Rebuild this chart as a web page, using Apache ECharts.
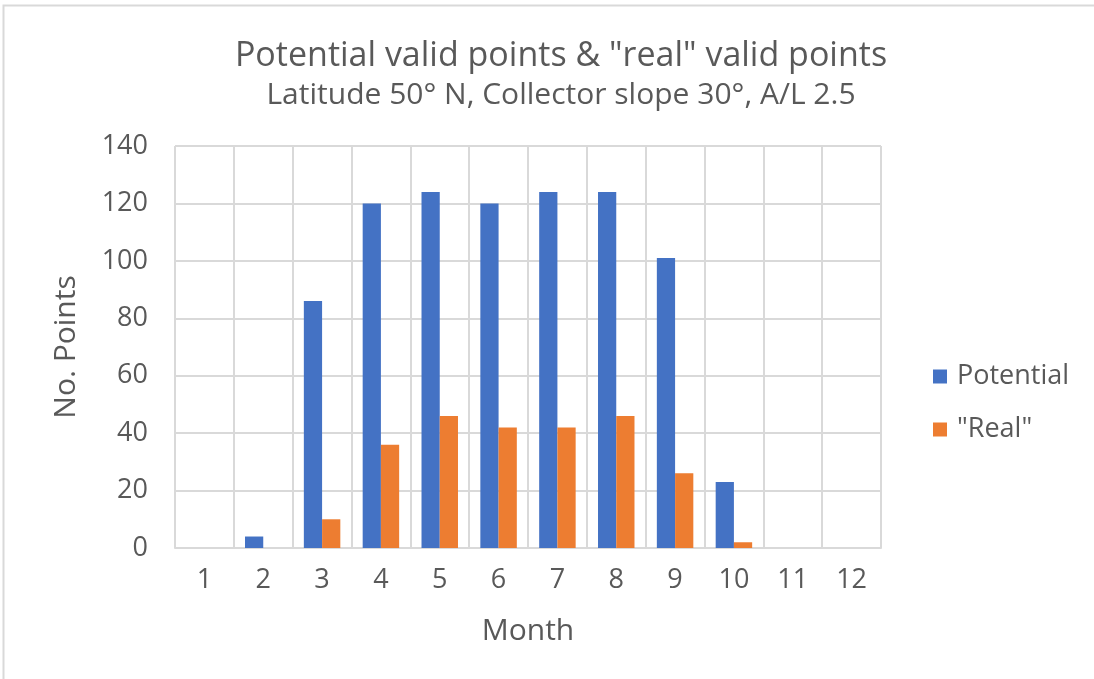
<!DOCTYPE html>
<html><head><meta charset="utf-8">
<script src="https://cdn.jsdelivr.net/npm/echarts@6/dist/echarts.min.js"></script>
<style>html,body{margin:0;padding:0;background:#fff}#c{width:1094px;height:679px}</style>
</head><body><div id="c"></div>
<script>
var months = ['1','2','3','4','5','6','7','8','9','10','11','12'];
var potential = [0,4,86,120,124,120,124,124,101,23,0,0];
var realPts = [0,0,10,36,46,42,42,46,26,2,0,0];
var titleText = 'Potential valid points & "real" valid points';
var subtitleText = 'Latitude 50° N, Collector slope 30°, A/L 2.5';

var FONT = 'Open Sans';
var TXT = '#595959';
var chart = echarts.init(document.getElementById('c'), null, {renderer:'canvas'});
chart.setOption({
  backgroundColor:'#fff',
  animation:false,
  graphic:[{type:'rect',shape:{x:3.5,y:5.5,width:1200,height:800},style:{fill:'none',stroke:'#d9d9d9',lineWidth:2},silent:true}],
  title:{text:titleText, subtext:subtitleText, left:556, textAlign:'center', top:32,
    textStyle:{fontFamily:FONT,fontSize:34,fontWeight:'normal',color:TXT,lineHeight:38},
    subtextStyle:{fontFamily:FONT,fontSize:30,color:TXT,lineHeight:32}, itemGap:4},
  legend:{orient:'vertical', left:928, top:358, itemWidth:14, itemHeight:14, itemGap:26,
    icon:'rect', textStyle:{fontFamily:FONT,fontSize:27,color:TXT,padding:[0,0,0,5]}},
  grid:{left:175, right:213, top:146, bottom:131, containLabel:false},
  xAxis:{type:'category', data:months, name:'Month', nameLocation:'middle', nameGap:68,
    nameTextStyle:{fontFamily:FONT,fontSize:30,color:TXT},
    axisLine:{show:true,lineStyle:{color:'#d9d9d9',width:2}}, axisTick:{show:false},
    axisLabel:{fontFamily:FONT,fontSize:27,color:TXT,margin:19},
    splitLine:{show:true,lineStyle:{color:'#d9d9d9',width:2}}},
  yAxis:{type:'value', min:0, max:140, interval:20, name:'No. Points', nameLocation:'middle', nameGap:94,
    nameTextStyle:{fontFamily:FONT,fontSize:30,color:TXT},
    axisLine:{show:false}, axisTick:{show:false},
    axisLabel:{fontFamily:FONT,fontSize:27,color:TXT,margin:27},
    splitLine:{show:true,lineStyle:{color:'#d9d9d9',width:2}}},
  series:[
    {name:'Potential', type:'bar', data:potential, barGap:'0%', barCategoryGap:'38%', itemStyle:{color:'#4472c4'}},
    {name:'"Real"', type:'bar', data:realPts, itemStyle:{color:'#ed7d31'}}
  ]
});
</script></body></html>
